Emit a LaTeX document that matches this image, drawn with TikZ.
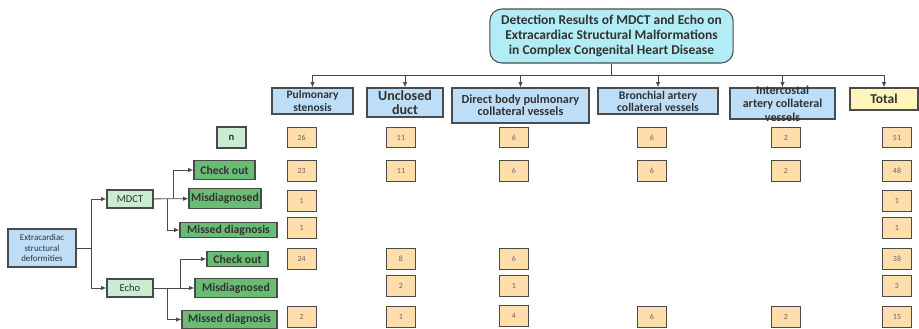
\documentclass[tikz,border=0pt]{standalone}
\usepackage{fontspec}
\setmainfont{Carlito}
\usepackage{tikz}
\usetikzlibrary{arrows.meta}

\definecolor{titlecyan}{RGB}{178,236,244}
\definecolor{headblue}{RGB}{190,222,248}
\definecolor{totalyellow}{RGB}{255,245,188}
\definecolor{darkgreen}{RGB}{104,188,116}
\definecolor{lightgreen}{RGB}{202,236,208}
\definecolor{numorange}{RGB}{255,222,172}
\definecolor{edgegray}{RGB}{75,75,75}
\definecolor{textgray}{RGB}{50,50,50}

\begin{document}
\begin{tikzpicture}[x=0.03cm,y=-0.03cm,>={Latex[length=4.5pt,width=3.6pt]},
  box/.style={draw=edgegray,line width=0.9pt,inner sep=0pt,align=center,text=textgray},
  head/.style={box,fill=headblue,font=\bfseries},
  result/.style={box,fill=darkgreen,font=\bfseries\fontsize{10}{11}\selectfont,minimum height=0.58cm},
  method/.style={box,fill=lightgreen,font=\fontsize{9}{10}\selectfont,minimum width=1.38cm,minimum height=0.54cm},
  num/.style={box,fill=numorange,text=black!60,font=\fontsize{6.8}{7}\selectfont,minimum width=0.87cm,minimum height=0.62cm},
  link/.style={draw=edgegray,line width=0.7pt}]
  \useasboundingbox (0,0) rectangle (919,328);

  % title and columns
  \node[box,fill=titlecyan,rounded corners=0.36cm,minimum width=7.3cm,minimum height=1.62cm,
        font=\bfseries\fontsize{11.5}{13}\selectfont] (title) at (611.5,36)
        {Detection Results of MDCT and Echo on\\Extracardiac Structural Malformations\\in Complex Congenital Heart Disease};
  \coordinate (bar) at (611.5,75);

  \node[head,minimum width=2.43cm,minimum height=0.78cm,font=\bfseries\fontsize{9.8}{10.3}\selectfont] (pulm) at (312.5,101) {Pulmonary\\stenosis};
  \node[head,minimum width=2.28cm,minimum height=0.87cm,font=\bfseries\fontsize{12}{12.5}\selectfont] (duct) at (405,102.5) {Unclosed\\duct};
  \node[head,minimum width=4.11cm,minimum height=1.05cm,font=\bfseries\fontsize{10.5}{10.5}\selectfont] (direct) at (520.5,105.5) {Direct body pulmonary\\collateral vessels};
  \node[head,minimum width=3.6cm,minimum height=0.78cm,font=\bfseries\fontsize{10}{10.3}\selectfont] (bronch) at (658,101) {Bronchial artery\\collateral vessels};
  \node[head,minimum width=3.15cm,minimum height=0.93cm] (inter) at (782.5,103.5) {};
  \node[text=textgray,align=center,font=\bfseries\fontsize{10.3}{11.6}\selectfont] at (inter) {Intercostal\\artery collateral\\vessels};
  \node[head,fill=totalyellow,minimum width=2.04cm,minimum height=0.66cm,font=\bfseries\fontsize{11.5}{12}\selectfont] (total) at (884,99) {Total};

  \draw[link] (title) -- (bar);
  \foreach \c in {pulm,duct,direct,bronch,inter,total}
    \draw[link,->] (bar) -| (\c.north);

  % left tree
  \node[box,fill=headblue,minimum width=2.04cm,minimum height=1.14cm,font=\fontsize{7.6}{8.6}\selectfont] (root) at (42,248) {Extracardiac\\structural\\deformities};
  \coordinate (split) at (91,248);
  \node[method] (mdct) at (130,199) {MDCT};
  \node[method] (echo) at (130,288) {Echo};
  \node[box,fill=lightgreen,font=\bfseries\fontsize{9}{10}\selectfont,minimum width=0.87cm,minimum height=0.63cm] (n) at (231.5,137.5) {n};

  \node[result,minimum width=1.83cm] (mchk) at (224.5,170) {Check out};
  \node[result,minimum width=2.16cm] (mdis) at (225,198.5) {Misdiagnosed};
  \node[result,minimum width=2.91cm,minimum height=0.45cm] (mmis) at (228.5,230) {Missed diagnosis};
  \node[result,minimum width=1.83cm,minimum height=0.45cm] (echk) at (237.5,259) {Check out};
  \node[result,minimum width=2.46cm] (edis) at (236,288) {Misdiagnosed};
  \node[result,minimum width=2.85cm,minimum height=0.54cm] (emis) at (229.5,319.5) {Missed diagnosis};

  \coordinate (m1) at (173,199);
  \coordinate (m2) at (167,199);
  \coordinate (e1) at (180,288);
  \coordinate (e2) at (167,288);

  \draw[link] (root) -- (split);
  \draw[link,->] (split) |- (mdct);
  \draw[link,->] (split) |- (echo);
  \draw[link,->] (mdct) -- (mdis);
  \draw[link,->] (m1) |- (mchk);
  \draw[link,->] (m2) |- (mmis);
  \draw[link,->] (echo) -- (edis);
  \draw[link,->] (e1) |- (echk);
  \draw[link,->] (e2) |- (emis);

  % numbers
  \foreach \x/\y/\v in {301.7/137.5/26, 401/137.5/11, 514/137.5/6, 652/137.5/6, 786/137.5/2, 897/137.5/51,
                        301.7/170.7/23, 401/170.7/11, 514/170.7/6, 652/170.7/6, 786/170.7/2, 897/170.7/48,
                        301.7/201/1, 897/201/1,
                        301.7/228/1, 897/228/1,
                        301.7/259/24, 401/259/8, 514/259/6, 897/259/38,
                        401/286/2, 514/286/1, 897/286/3,
                        301.7/316.7/2, 401/316.7/1, 514/316/4, 652/316.7/6, 786/316.7/2, 897/316.7/15}
    \node[num] at (\x,\y) {\v};
\end{tikzpicture}
\end{document}
